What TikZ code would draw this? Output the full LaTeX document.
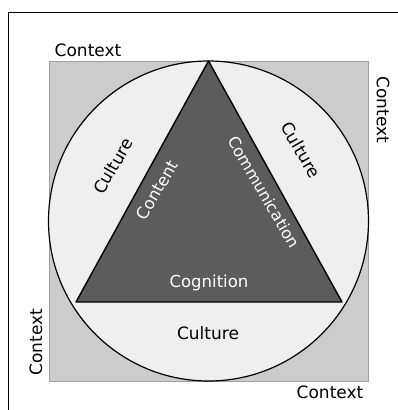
\documentclass[tikz,border=0pt]{standalone}
\usepackage{fontspec}
\setmainfont{DejaVu Sans}
\begin{document}
\begin{tikzpicture}[x=1pt,y=-1pt,
  lbl/.style={font=\fontsize{17}{19}\selectfont, inner sep=0pt, text=black},
  wlbl/.style={font=\fontsize{16.5}{18}\selectfont, inner sep=0pt, text=white}]
\useasboundingbox (0,0) rectangle (398,410);
\fill[white] (0,0) rectangle (398,410);
% outer frame (top and left)
\draw[line width=1pt] (8,410) -- (8,12) -- (398,12);
% context square
\coordinate (sqA) at (49,61);
\coordinate (sqB) at (368,381);
\draw[fill={rgb,255:red,204;green,204;blue,204}, draw={rgb,255:red,160;green,160;blue,160}, line width=0.8pt] (sqA) rectangle (sqB);
% culture circle
\coordinate (O) at (208.5,221);
\draw[fill={rgb,255:red,239;green,239;blue,239}, line width=1.2pt] (O) circle (160);
% triangle
\coordinate (T) at (208.5,61);
\coordinate (L) at (76,302);
\coordinate (R) at (342,302);
\draw[fill={rgb,255:red,92;green,92;blue,92}, line width=1.4pt, line join=round] (T) -- (L) -- (R) -- cycle;
% labels
\node[lbl] (ctxT) at (88,50) {Context};
\node[lbl, rotate=-90] (ctxR) at (383,110) {Context};
\node[lbl, rotate=90] (ctxL) at (36,342) {Context};
\node[lbl] (ctxB) at (330,392) {Context};
\node[lbl, rotate=60] (culL) at (113,166) {Culture};
\node[lbl, rotate=-60] (culR) at (301,150) {Culture};
\node[lbl] (culB) at (208,333) {Culture};
\node[wlbl, rotate=60] (cont) at (157,190) {Content};
\node[wlbl, rotate=-60, font=\fontsize{16}{18}\selectfont] (comm) at (264,192) {Communication};
\node[wlbl] (cogn) at (209,283) {Cognition};
\end{tikzpicture}
\end{document}
